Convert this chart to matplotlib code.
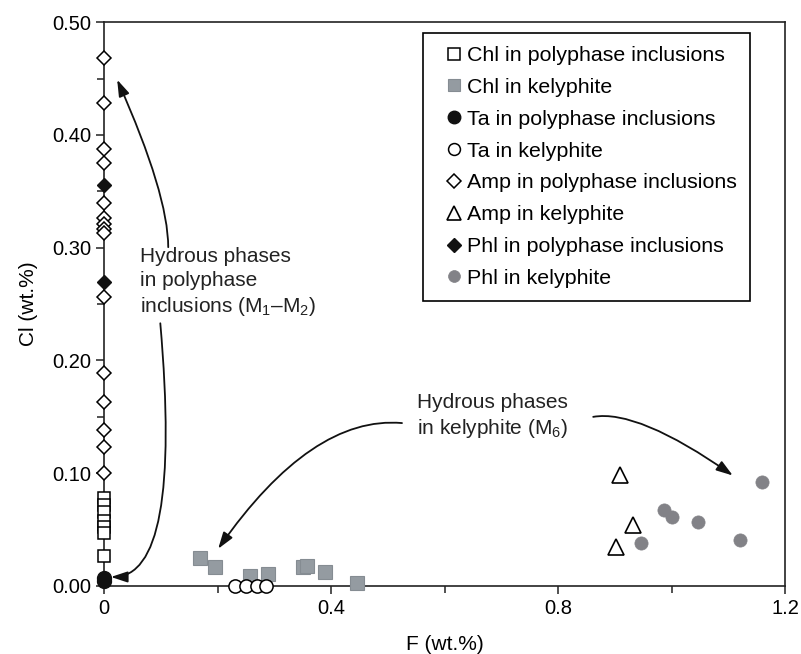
from __future__ import annotations

import matplotlib

matplotlib.use("Agg")
import matplotlib.pyplot as plt
from matplotlib.ticker import FixedLocator, MultipleLocator

plt.rcParams["font.family"] = ["Liberation Sans", "DejaVu Sans"]
plt.rcParams["mathtext.fontset"] = "custom"
plt.rcParams["mathtext.rm"] = "Liberation Sans"
plt.rcParams["mathtext.it"] = "Liberation Sans"

# F (wt.%) and Cl (wt.%)
chl_poly_f = [0, 0, 0, 0, 0, 0, 0]
chl_poly_cl = [0.078, 0.072, 0.066, 0.058, 0.052, 0.047, 0.027]

chl_kel_f = [0.169, 0.196, 0.257, 0.289, 0.351, 0.357, 0.389, 0.446]
chl_kel_cl = [0.025, 0.017, 0.009, 0.011, 0.017, 0.018, 0.012, 0.003]

ta_poly_f = [0, 0]
ta_poly_cl = [0.004, 0.007]

ta_kel_f = [0.23, 0.25, 0.27, 0.285]
ta_kel_cl = [0.0, 0.0, 0.0, 0.0]

amp_poly_f = [0] * 15
amp_poly_cl = [0.468, 0.428, 0.388, 0.375, 0.340, 0.326, 0.321, 0.317,
               0.313, 0.256, 0.189, 0.163, 0.138, 0.123, 0.100]

amp_kel_f = [0.909, 0.932, 0.902]
amp_kel_cl = [0.098, 0.054, 0.035]

phl_poly_f = [0, 0]
phl_poly_cl = [0.356, 0.270]

phl_kel_f = [0.946, 0.987, 1.001, 1.047, 1.121, 1.159]
phl_kel_cl = [0.038, 0.067, 0.061, 0.057, 0.041, 0.092]

x_ticks = [0, 0.4, 0.8, 1.2]
x_tick_labels = ["0", "0.4", "0.8", "1.2"]
y_ticks = [0.0, 0.1, 0.2, 0.3, 0.4, 0.5]
y_tick_labels = ["0.00", "0.10", "0.20", "0.30", "0.40", "0.50"]


def main() -> None:
    fig = plt.figure(figsize=(8.01, 6.54), dpi=100)
    ax = fig.add_axes([0.130, 0.104, 0.850, 0.862])

    gray_sq = "#949ba1"
    gray_ci = "#828287"
    kw = dict(linestyle="none", clip_on=False)

    h = []
    h += ax.plot(chl_poly_f, chl_poly_cl, marker="s", ms=9, mfc="white", mec="black",
                 mew=1.1, label="Chl in polyphase inclusions", zorder=4, **kw)
    h += ax.plot(chl_kel_f, chl_kel_cl, marker="s", ms=9.5, mfc=gray_sq, mec="#858c92",
                 mew=0.8, label="Chl in kelyphite", zorder=3, **kw)
    h += ax.plot(ta_poly_f, ta_poly_cl, marker="o", ms=10, mfc="#111111", mec="#111111",
                 mew=1.0, label="Ta in polyphase inclusions", zorder=5, **kw)
    h += ax.plot(ta_kel_f, ta_kel_cl, marker="o", ms=9.5, mfc="white", mec="black",
                 mew=1.1, label="Ta in kelyphite", zorder=4, **kw)
    h += ax.plot(amp_poly_f, amp_poly_cl, marker="D", ms=7.5, mfc="white", mec="black",
                 mew=1.1, label="Amp in polyphase inclusions", zorder=4, **kw)
    h += ax.plot(amp_kel_f, amp_kel_cl, marker="^", ms=11, mfc="white", mec="black",
                 mew=1.2, label="Amp in kelyphite", zorder=4, **kw)
    h += ax.plot(phl_poly_f, phl_poly_cl, marker="D", ms=7.5, mfc="#111111", mec="#111111",
                 mew=1.0, label="Phl in polyphase inclusions", zorder=5, **kw)
    h += ax.plot(phl_kel_f, phl_kel_cl, marker="o", ms=9.5, mfc=gray_ci, mec=gray_ci,
                 mew=0.5, label="Phl in kelyphite", zorder=4, **kw)

    ax.set_xlim(0, 1.2)
    ax.set_ylim(0, 0.5)
    ax.xaxis.set_major_locator(FixedLocator(x_ticks))
    ax.set_xticklabels(x_tick_labels)
    ax.xaxis.set_minor_locator(MultipleLocator(0.2))
    ax.yaxis.set_major_locator(FixedLocator(y_ticks))
    ax.set_yticklabels(y_tick_labels)
    ax.yaxis.set_minor_locator(MultipleLocator(0.05))
    ax.tick_params(which="both", direction="out", length=6, width=1.1,
                   labelsize=14.5, top=False, right=False, color="#222222")
    ax.tick_params(which="minor", length=5)
    for s in ax.spines.values():
        s.set_linewidth(1.2)
        s.set_color("#222222")

    ax.set_xlabel("F (wt.%)", fontsize=15, labelpad=12)
    ax.set_ylabel("Cl (wt.%)", fontsize=15, labelpad=10)

    leg = ax.legend(handles=h, loc="upper right", bbox_to_anchor=(0.9486, 0.9805),
                    fontsize=15.4, frameon=True, fancybox=False, edgecolor="black",
                    framealpha=1, markerscale=0.9, handlelength=1.73,
                    handletextpad=-0.25, labelspacing=0.6, borderpad=0.6,
                    borderaxespad=0)
    leg.get_frame().set_linewidth(1.2)

    # annotations
    ax.text(0.063, 0.269, "Hydrous phases\nin polyphase\ninclusions (M$_1$–M$_2$)",
            fontsize=15, ha="left", va="center", color="#222222", linespacing=1.3)
    ax.text(0.552, 0.150, "Hydrous phases\nin kelyphite (M$_6$)",
            fontsize=15, ha="left", va="center", color="#222222", linespacing=1.3)

    arrow = dict(arrowstyle="-|>,head_length=1.0,head_width=0.33", color="#111111",
                 lw=1.3, shrinkA=0, shrinkB=0)
    arrows = [
        ((0.023, 0.449), (0.113, 0.3005), "angle3,angleA=90,angleB=-66"),
        ((0.012, 0.008), (0.099, 0.233), "angle3,angleA=95,angleB=0"),
        ((0.201, 0.033), (0.525, 0.1445), "angle3,angleA=175,angleB=55"),
        ((1.108, 0.098), (0.862, 0.150), "angle3,angleA=10,angleB=-35"),
    ]
    for xy, xytext, cs in arrows:
        ax.annotate("", xy=xy, xytext=xytext,
                    arrowprops=dict(arrow, connectionstyle=cs), zorder=6)

    fig.savefig("out.png", dpi=100)
    plt.close(fig)


if __name__ == "__main__":
    main()
